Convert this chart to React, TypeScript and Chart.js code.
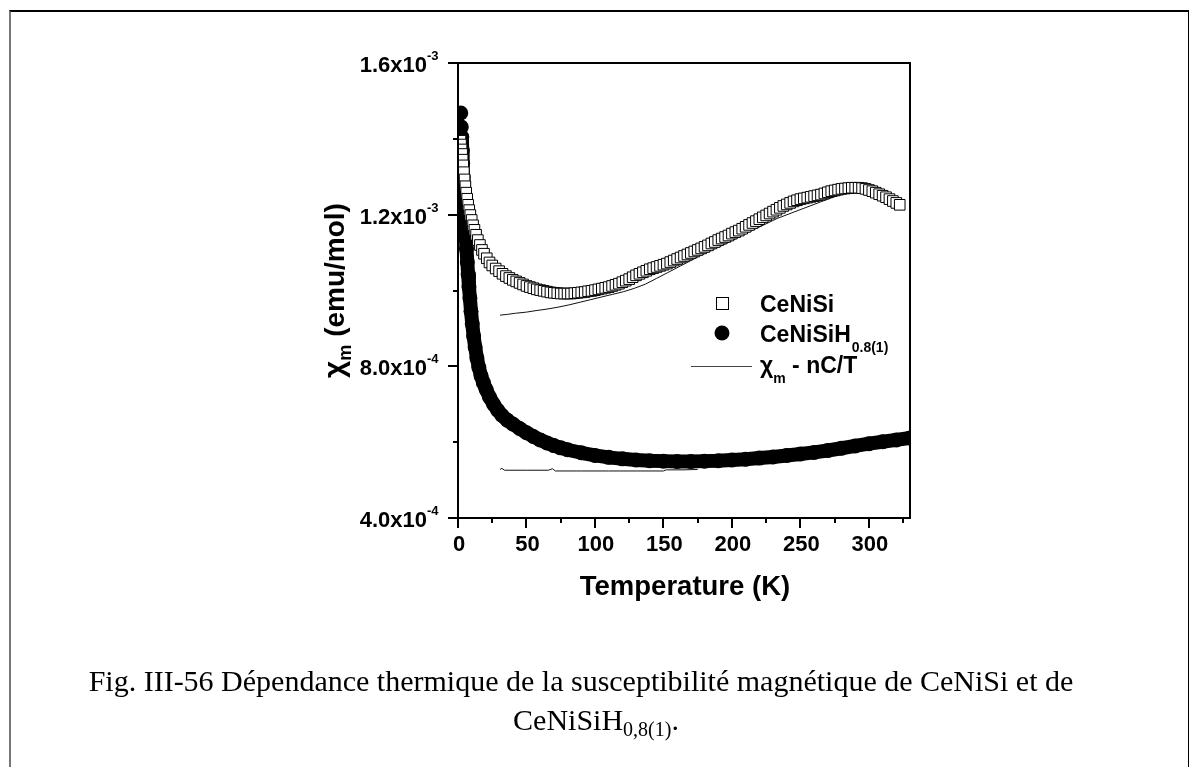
import React, { useEffect, useRef } from 'react';
import { Chart, registerables } from 'chart.js';

Chart.register(...registerables);

const W = 1197;
const H = 767;

// CeNiSi (open squares): temperature (K) and chi_m (10^-3 emu/mol)
const ceNiSiT = [
  1.8, 2.2, 2.6, 3.0, 3.4, 3.8, 4.3, 4.8, 5.4, 6.0, 6.7, 7.4, 8.2, 9.0, 10, 11, 12, 13.2, 14.5, 16, 17.5, 19, 21, 23, 25, 27.5,
  30, 32.5, 35, 37.5, 40, 42.5, 45, 47.5, 50, 52.5, 55, 57.5, 60, 62.5, 65, 67.5, 70, 72.5, 75, 77.5, 80, 82.5, 85, 87.5,
  90, 92.5, 95, 97.5, 100, 102.5, 105, 107.5, 110, 112.5, 115, 117.5, 120, 122.5, 125, 127.5, 130, 132.5, 135, 137.5,
  140, 142.5, 145, 147.5, 150, 152.5, 155, 157.5, 160, 162.5, 165, 167.5, 170, 172.5, 175, 177.5, 180, 182.5, 185, 187.5,
  190, 192.5, 195, 197.5, 200, 202.5, 205, 207.5, 210, 212.5, 215, 217.5, 220, 222.5, 225, 227.5, 230, 232.5, 235, 237.5,
  240, 242.5, 245, 247.5, 250, 252.5, 255, 257.5, 260, 262.5, 265, 267.5, 270, 272.5, 275, 277.5, 280, 282.5, 285, 287.5,
  290, 292.5, 295, 297.5, 300, 302.5, 305, 307.5, 310, 312.5, 315, 317.5, 320, 322.5,
];
const ceNiSiChi = [
  1.395, 1.385, 1.372, 1.360, 1.345, 1.330, 1.312, 1.293, 1.275, 1.258, 1.242, 1.226, 1.212, 1.199, 1.186, 1.172, 1.160, 1.147, 1.133, 1.120, 1.107, 1.097, 1.085, 1.074, 1.066, 1.058,
  1.051, 1.044, 1.038, 1.033, 1.028, 1.024, 1.020, 1.016, 1.012, 1.009, 1.006, 1.003, 1.001, 0.999, 0.997, 0.995, 0.994, 0.993, 0.992, 0.992, 0.992, 0.992, 0.993, 0.994,
  0.995, 0.996, 0.998, 0.999, 1.001, 1.003, 1.005, 1.007, 1.009, 1.012, 1.015, 1.018, 1.022, 1.026, 1.030, 1.035, 1.040, 1.044, 1.048, 1.052,
  1.056, 1.059, 1.062, 1.065, 1.068, 1.071, 1.075, 1.079, 1.083, 1.087, 1.091, 1.095, 1.099, 1.103, 1.107, 1.111, 1.115, 1.119, 1.124, 1.128,
  1.133, 1.137, 1.141, 1.145, 1.150, 1.154, 1.158, 1.163, 1.168, 1.173, 1.178, 1.183, 1.188, 1.193, 1.198, 1.203, 1.208, 1.213, 1.218, 1.223,
  1.227, 1.231, 1.235, 1.238, 1.241, 1.243, 1.245, 1.247, 1.249, 1.251, 1.253, 1.256, 1.259, 1.262, 1.264, 1.266, 1.268, 1.269, 1.270, 1.271,
  1.271, 1.271, 1.270, 1.268, 1.265, 1.262, 1.258, 1.254, 1.250, 1.246, 1.241, 1.236, 1.231, 1.226,
];

// CeNiSiH0.8(1) (filled circles)
const ceNiSiHT = [
  2.0, 2.4, 2.8, 3.1, 3.4, 3.7, 4.0, 4.4, 4.8, 5.2, 5.7, 6.2, 6.8, 7.4, 8.0, 8.7, 9.5, 10.4, 11.4, 12.5, 13.8, 15.2, 16.8, 18.5,
  20.5, 23, 26, 29, 32, 36, 40, 45, 50, 55, 60, 65, 70, 75, 80, 90, 100, 110, 120, 130, 140, 150, 160, 170, 180, 190, 200,
  210, 220, 230, 240, 250, 260, 270, 280, 290, 300, 310, 320, 330,
];
const ceNiSiHChi = [
  1.468, 1.431, 1.405, 1.370, 1.335, 1.300, 1.270, 1.235, 1.200, 1.170, 1.140, 1.110, 1.075, 1.042, 1.010, 0.980, 0.945, 0.912, 0.880, 0.851, 0.822, 0.797, 0.775, 0.757,
  0.739, 0.719, 0.700, 0.684, 0.671, 0.658, 0.648, 0.636, 0.625, 0.615, 0.606, 0.598, 0.591, 0.585, 0.580, 0.572, 0.565, 0.560, 0.556, 0.553, 0.551, 0.550, 0.549, 0.549, 0.550, 0.551, 0.553,
  0.555, 0.558, 0.561, 0.565, 0.569, 0.573, 0.578, 0.584, 0.590, 0.596, 0.601, 0.606, 0.611,
];

// chi_m - nC/T for CeNiSi
const corrNiSiT = [30.7, 36, 42, 50, 57, 65, 73, 81, 89, 97, 105, 113, 121, 129, 137, 145, 153, 161, 169, 177, 185, 193, 201, 209, 217, 225, 233, 241, 249, 257, 265, 273, 281, 289, 295];
const corrNiSiChi = [0.935, 0.937, 0.940, 0.943, 0.947, 0.951, 0.956, 0.962, 0.969, 0.976, 0.983, 0.990, 0.997, 1.006, 1.017, 1.032, 1.047, 1.062, 1.077, 1.092, 1.106, 1.119, 1.133, 1.148, 1.162, 1.176, 1.190, 1.201, 1.212, 1.223, 1.234, 1.245, 1.254, 1.261, 1.264];

// chi_m - nC/T for CeNiSiH
const corrNiSiHT = [30.7, 32, 34, 50, 66, 69, 71, 90, 110, 130, 150, 152, 165, 175];
const corrNiSiHChi = [0.528, 0.531, 0.526, 0.526, 0.526, 0.530, 0.524, 0.524, 0.524, 0.524, 0.524, 0.527, 0.527, 0.528];

// axes
const xMin = 0;
const xMax = 330;
const yMin = 0.4;
const yMax = 1.6;
const xMajorTicks = [0, 50, 100, 150, 200, 250, 300];
const xMinorTicks = [25, 75, 125, 175, 225, 275, 325];
const xTickLabels = ['0', '50', '100', '150', '200', '250', '300'];
const yMajorTicks = [0.4, 0.8, 1.2, 1.6];
const yMinorTicks = [0.6, 1.0, 1.4];
const yTickMantissa = ['4.0x10', '8.0x10', '1.2x10', '1.6x10'];
const yTickExponent = ['-4', '-4', '-3', '-3'];

const SANS = '"Liberation Sans", Arial, Helvetica, sans-serif';
const SERIF = '"Liberation Serif", "Times New Roman", Times, serif';

const toPts = (xs: number[], ys: number[]) => xs.map((x, i) => ({ x, y: ys[i] }));

const decorPlugin = {
  id: 'decor',
  afterDatasetsDraw(chart: any) {
    const { ctx, chartArea: a, scales } = chart;
    const xs = scales.x;
    const ys = scales.y;
    ctx.save();
    ctx.strokeStyle = '#000';
    ctx.fillStyle = '#000';
    ctx.lineWidth = 2;
    ctx.strokeRect(a.left, a.top, a.right - a.left, a.bottom - a.top);

    ctx.beginPath();
    xMajorTicks.forEach((v) => {
      const p = Math.round(xs.getPixelForValue(v));
      ctx.moveTo(p, a.bottom);
      ctx.lineTo(p, a.bottom + 10);
    });
    xMinorTicks.forEach((v) => {
      const p = Math.round(xs.getPixelForValue(v));
      ctx.moveTo(p, a.bottom);
      ctx.lineTo(p, a.bottom + 5);
    });
    yMajorTicks.forEach((v) => {
      const p = Math.round(ys.getPixelForValue(v));
      ctx.moveTo(a.left, p);
      ctx.lineTo(a.left - 10, p);
    });
    yMinorTicks.forEach((v) => {
      const p = Math.round(ys.getPixelForValue(v));
      ctx.moveTo(a.left, p);
      ctx.lineTo(a.left - 5, p);
    });
    ctx.stroke();

    // x tick labels
    ctx.font = `bold 22px ${SANS}`;
    ctx.textAlign = 'center';
    ctx.textBaseline = 'alphabetic';
    xMajorTicks.forEach((v, i) => {
      ctx.fillText(xTickLabels[i], xs.getPixelForValue(v) + 1, a.bottom + 33);
    });

    // y tick labels with superscript exponent
    yMajorTicks.forEach((v, i) => {
      const p = ys.getPixelForValue(v);
      ctx.font = `bold 22px ${SANS}`;
      ctx.textAlign = 'right';
      ctx.fillText(yTickMantissa[i], a.left - 31, p + 9);
      ctx.font = `bold 13px ${SANS}`;
      ctx.textAlign = 'left';
      ctx.fillText(yTickExponent[i], a.left - 31, p - 3);
    });

    // x title
    ctx.font = `bold 27.5px ${SANS}`;
    ctx.textAlign = 'center';
    ctx.fillText('Temperature (K)', (a.left + a.right) / 2 + 1, a.bottom + 77);

    // y title (rotated)
    ctx.save();
    ctx.translate(a.left - 114, (a.top + a.bottom) / 2);
    ctx.rotate(-Math.PI / 2);
    ctx.textAlign = 'left';
    const big = `bold 28px ${SANS}`;
    const chiFont = `bold 30px ${SANS}`;
    const small = `bold 18px ${SANS}`;
    ctx.font = chiFont;
    const wChi = ctx.measureText('χ').width;
    ctx.font = big;
    const wRest = ctx.measureText(' (emu/mol)').width;
    ctx.font = small;
    const wM = ctx.measureText('m').width;
    const x0 = -(wChi + wM + wRest) / 2;
    ctx.font = chiFont;
    ctx.fillText('χ', x0, 0);
    ctx.font = small;
    ctx.fillText('m', x0 + wChi, 7);
    ctx.font = big;
    ctx.fillText(' (emu/mol)', x0 + wChi + wM, 0);
    ctx.restore();

    // legend
    const lx = 722;
    ctx.lineWidth = 1;
    ctx.fillStyle = '#fff';
    ctx.fillRect(716.5, 297.5, 12, 12);
    ctx.strokeStyle = '#000';
    ctx.strokeRect(716.5, 297.5, 12, 12);
    ctx.fillStyle = '#000';
    ctx.beginPath();
    ctx.arc(lx, 333, 7.5, 0, Math.PI * 2);
    ctx.fill();
    ctx.strokeStyle = '#444';
    ctx.beginPath();
    ctx.moveTo(691, 366.5);
    ctx.lineTo(752, 366.5);
    ctx.stroke();

    const tx = 760;
    ctx.textAlign = 'left';
    ctx.font = `bold 23px ${SANS}`;
    ctx.fillText('CeNiSi', tx, 312);
    ctx.fillText('CeNiSiH', tx, 342);
    const wH = ctx.measureText('CeNiSiH').width;
    ctx.font = `bold 14px ${SANS}`;
    ctx.fillText('0.8(1)', tx + wH + 1, 352);
    ctx.font = `bold 23px ${SANS}`;
    ctx.fillText('χ', tx, 373);
    const wX = ctx.measureText('χ').width;
    ctx.font = `bold 14px ${SANS}`;
    ctx.fillText('m', tx + wX, 383);
    const wm = ctx.measureText('m').width;
    ctx.font = `bold 23px ${SANS}`;
    ctx.fillText(' - nC/T', tx + wX + wm, 373);

    ctx.restore();
  },
};

export default function App() {
  const ref = useRef<HTMLCanvasElement>(null);

  useEffect(() => {
    document.body.style.margin = '0';
    const canvas = ref.current;
    if (!canvas) return;
    const chart = new Chart(canvas, {
      type: 'scatter',
      data: {
        datasets: [
          {
            label: 'CeNiSi',
            data: toPts(ceNiSiT, ceNiSiChi),
            showLine: false,
            pointStyle: 'rect',
            pointRadius: 7.5,
            pointBorderWidth: 1,
            pointBorderColor: '#000',
            pointBackgroundColor: '#fff',
            order: 0,
            clip: 0,
          },
          {
            label: 'χm - nC/T (CeNiSi)',
            data: toPts(corrNiSiT, corrNiSiChi),
            showLine: true,
            pointRadius: 0,
            borderWidth: 1,
            borderColor: '#111',
            order: 1,
            clip: 0,
          },
          {
            label: 'CeNiSiH0.8(1)',
            data: toPts(ceNiSiHT, ceNiSiHChi),
            showLine: true,
            borderWidth: 14,
            borderColor: '#000',
            borderJoinStyle: 'round',
            borderCapStyle: 'round',
            segment: {
              borderColor: (c: any) => (c.p0DataIndex < 2 ? 'rgba(0,0,0,0)' : '#000'),
            },
            pointRadius: 7.5,
            pointBorderWidth: 0,
            pointBackgroundColor: '#000',
            order: 2,
            clip: 0,
          },
          {
            label: 'χm - nC/T (CeNiSiH)',
            data: toPts(corrNiSiHT, corrNiSiHChi),
            showLine: true,
            pointRadius: 0,
            borderWidth: 1,
            borderColor: '#111',
            order: 3,
            clip: 0,
          },
        ],
      } as any,
      options: {
        animation: false,
        responsive: false,
        devicePixelRatio: 1,
        events: [],
        layout: { padding: { left: 458, top: 63, right: W - 910, bottom: H - 518 } },
        scales: {
          x: { type: 'linear', min: xMin, max: xMax, display: false },
          y: { type: 'linear', min: yMin, max: yMax, display: false },
        },
        plugins: { legend: { display: false }, tooltip: { enabled: false } },
      } as any,
      plugins: [decorPlugin],
    });
    return () => chart.destroy();
  }, []);

  return (
    <div style={{ position: 'relative', width: W, height: H, overflow: 'hidden', background: '#fff' }}>
      <div
        style={{
          position: 'absolute',
          left: 9,
          top: 10,
          width: 1180,
          height: H + 20,
          boxSizing: 'border-box',
          borderLeft: '2px solid #777',
          borderTop: '2px solid #000',
          borderRight: '1px solid #000',
        }}
      />
      <canvas ref={ref} width={W} height={H} style={{ position: 'absolute', left: 0, top: 0, width: W, height: H }} />
      <div
        style={{
          position: 'absolute',
          left: 0,
          width: 1162,
          top: 664,
          textAlign: 'center',
          font: `30px ${SERIF}`,
          lineHeight: '34px',
          whiteSpace: 'nowrap',
          color: '#000',
        }}
      >
        Fig. III-56 Dépendance thermique de la susceptibilité magnétique de CeNiSi et de
      </div>
      <div
        style={{
          position: 'absolute',
          left: 0,
          width: 1192,
          top: 703,
          textAlign: 'center',
          font: `30px ${SERIF}`,
          lineHeight: '34px',
          whiteSpace: 'nowrap',
          color: '#000',
        }}
      >
        CeNiSiH<sub style={{ fontSize: '20px', verticalAlign: '-6px', lineHeight: 0 }}>0,8(1)</sub>.
      </div>
    </div>
  );
}
